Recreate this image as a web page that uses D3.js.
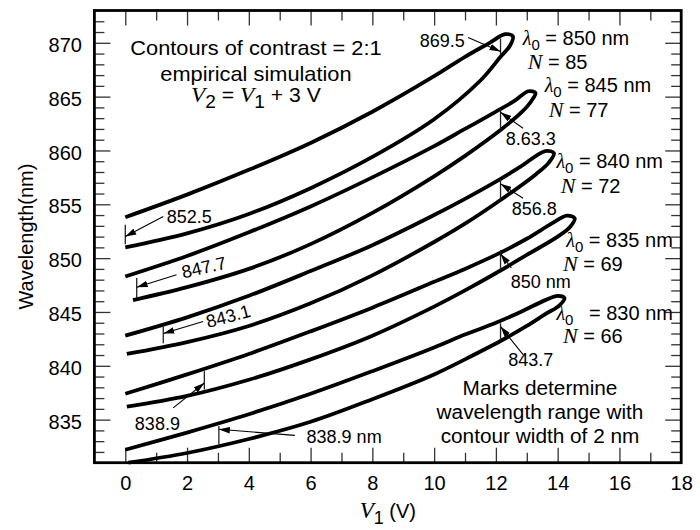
<!DOCTYPE html>
<html>
<head>
<meta charset="utf-8">
<script src="https://cdn.jsdelivr.net/npm/d3@7"></script>
<style>
  html, body { margin: 0; padding: 0; background: #fff; }
  svg text { font-family: "Liberation Sans", Arial, Helvetica, sans-serif; fill: #000; }
</style>
</head>
<body>
<svg id="chart" width="700" height="530"></svg>
<script>
// ---- axis ranges and tick labels ----
const xDomain = [-1, 18];
const yDomain = [831, 873];
const xTickLabels = [0, 2, 4, 6, 8, 10, 12, 14, 16, 18];
const yTickLabels = [835, 840, 845, 850, 855, 860, 865, 870];

// ---- contour loops of contrast 2:1, [V1 (V), wavelength (nm)],
//      traced along the upper branch, round the tip, back along the lower branch ----
const loop850 = [[0,853.8],[2,855.9],[4,858.2],[6,860.7],[8,863.6],[10,866.9],[11,868.7],[11.8,870.0],[12.3,870.8],
                 [12.55,870.6],[12.45,869.7],[12.15,868.7],[11.5,866.5],[10,862.9],[8,859.4],[6,856.5],[4,854.1],[2,852.3],[0,851.0]];
const loop845 = [[0,848.3],[2,850.2],[4,852.4],[6,854.8],[8,857.5],[10,860.4],[11,862.0],[12,863.6],[12.6,864.6],[13.05,865.5],
                 [13.28,865.35],[13.15,864.6],[12.85,863.6],[12.15,861.9],[11,859.5],[10,857.6],[8,854.2],[6,851.3],[4,849.0],[2,847.3],[0.25,846.1]];
const loop840 = [[0,842.8],[2,844.5],[4,846.5],[6,848.8],[8,851.2],[10,854.0],[11,855.5],[12,857.1],[12.8,858.5],[13.6,859.95],
                 [13.88,859.75],[13.72,858.9],[13.3,857.8],[12.15,855.4],[11,853.2],[10,851.5],[8,848.4],[6,845.8],[4,843.7],[2,842.2],[0.05,841.1]];
const loop835 = [[0,837.4],[2,839.2],[4,841.1],[6,843.2],[8,845.4],[10,847.8],[11,849.0],[12,850.3],[13,851.8],[13.8,853.2],[14.3,853.95],
                 [14.55,853.7],[14.4,852.9],[14.0,852.0],[13,850.3],[12.15,848.85],[11,847.0],[10,845.5],[8,842.8],[6,840.6],[4,838.7],[2,837.2],[0.05,836.2]];
const loop830 = [[0,832.2],[2,833.8],[4,835.5],[6,837.4],[8,839.5],[10,841.7],[11,842.9],[12,844.0],[12.8,845.0],[13.6,846.1],[14.0,846.5],
                 [14.22,846.3],[14.05,845.6],[13.6,844.8],[13,843.7],[12.15,842.3],[11,840.6],[10,839.2],[8,836.9],[6,834.8],[4,833.2],[2,831.9],[0.1,831.0]];
const loops = [loop850, loop845, loop840, loop835, loop830];

// centre wavelength and grating number of each contour
const lambda0 = [850, 845, 840, 835, 830];
const gratingN = [85, 77, 72, 69, 66];

// ---- marks: V1 position and the 2 nm wavelength span they cover ----
const markV1   = [0, 0.37, 1.23, 2.56, 3.03, 12.15, 12.15, 12.15, 12.15, 12.15];
const markLow  = [851.3, 846.3, 842.1, 837.8, 832.7, 868.9, 861.9, 855.4, 848.9, 842.4];
const markHigh = [853.1, 848.15, 843.65, 839.5, 834.4, 870.4, 863.76, 857.3, 850.75, 843.95];
const markText = ["852.5", "847.7", "843.1", "838.9", "838.9 nm", "869.5", "8.63.3", "856.8", "850 nm", "843.7"];

// ---- layout ----
const plot = { left: 94.4, right: 681.2, top: 10.5, bottom: 462.7 };

const svg = d3.select("#chart");
const x = d3.scaleLinear().domain(xDomain).range([plot.left, plot.right]);
const y = d3.scaleLinear().domain(yDomain).range([plot.bottom, plot.top]);
const serif = '"Liberation Serif", "Times New Roman", serif';

// arrow head marker
svg.append("defs").append("marker")
  .attr("id", "arrowHead")
  .attr("viewBox", "0 0 10 6")
  .attr("refX", 10).attr("refY", 3)
  .attr("markerUnits", "userSpaceOnUse")
  .attr("markerWidth", 11).attr("markerHeight", 7)
  .attr("orient", "auto")
  .append("path").attr("d", "M0,0 L10,3 L0,6 Z").attr("fill", "#000");

// ---- ticks (inward on all four sides) ----
const xSteps = d3.range(0, 18, 1);
const ySteps = d3.range(832, 873, 1);
const tickColor = "#333";

function drawTicks(axisGen, transform, values, size) {
  const g = svg.append("g").attr("transform", transform)
    .call(axisGen.tickValues(values).tickSize(size).tickFormat(""));
  g.select(".domain").remove();
  g.selectAll(".tick line").attr("stroke", tickColor).attr("stroke-width", 1.3);
  return g;
}
const xMaj = xSteps.filter(v => v % 2 === 0);
const xMin = xSteps.filter(v => v % 2 !== 0);
const yMaj = ySteps.filter(v => v % 5 === 0);
const yMin = ySteps.filter(v => v % 5 !== 0);

drawTicks(d3.axisBottom(x), `translate(0,${plot.bottom})`, xMaj, -15);
drawTicks(d3.axisBottom(x), `translate(0,${plot.bottom})`, xMin, -10);
drawTicks(d3.axisTop(x), `translate(0,${plot.top})`, xMaj, -15);
drawTicks(d3.axisTop(x), `translate(0,${plot.top})`, xMin, -10);
drawTicks(d3.axisLeft(y), `translate(${plot.left},0)`, yMaj, -16);
drawTicks(d3.axisLeft(y), `translate(${plot.left},0)`, yMin, -10);
drawTicks(d3.axisRight(y), `translate(${plot.right},0)`, yMaj, -16);
drawTicks(d3.axisRight(y), `translate(${plot.right},0)`, yMin, -10);

// ---- tick labels ----
const xl = svg.append("g").attr("transform", `translate(0,${plot.bottom})`)
  .call(d3.axisBottom(x).tickValues(xTickLabels).tickSize(0).tickPadding(13.5).tickFormat(d3.format("d")));
xl.select(".domain").remove();
xl.selectAll("text").attr("font-size", 20).style("font-family", '"Liberation Sans", Arial, sans-serif').attr("fill", "#000");

const yl = svg.append("g").attr("transform", `translate(${plot.left},0)`)
  .call(d3.axisLeft(y).tickValues(yTickLabels).tickSize(0).tickPadding(12.5).tickFormat(d3.format("d")));
yl.select(".domain").remove();
yl.selectAll("text").attr("font-size", 20).attr("dy", "0.43em").style("font-family", '"Liberation Sans", Arial, sans-serif').attr("fill", "#000");

// ---- contour loops ----
const line = d3.line()
  .x(d => x(d[0])).y(d => y(d[1]))
  .curve(d3.curveCatmullRom.alpha(0.5));

svg.append("g").selectAll("path").data(loops).join("path")
  .attr("d", line)
  .attr("fill", "none")
  .attr("stroke", "#000")
  .attr("stroke-width", 3.8)
  .attr("stroke-linejoin", "round")
  .attr("stroke-linecap", "butt");

// ---- wavelength-range marks ----
svg.append("g").selectAll("line").data(markV1).join("line")
  .attr("x1", (d) => x(d)).attr("x2", (d) => x(d))
  .attr("y1", (d, i) => y(markLow[i])).attr("y2", (d, i) => y(markHigh[i]))
  .attr("stroke", "#222").attr("stroke-width", 1.3);

// label placement for each mark: arrow tail, arrow head, text anchor (data units)
const markLayout = [
  { tail: [1.23, 853.86], head: [0, 852.0],  at: [1.34, 853.25], anchor: "start", rot: 0 },
  { tail: [1.66, 848.45], head: [0.37, 847.3], at: [1.88, 848.1], anchor: "start", rot: -13 },
  { tail: [2.52, 844.12], head: [1.23, 843.0], at: [2.68, 843.5], anchor: "start", rot: -15 },
  { tail: [1.55, 836.09], head: [2.56, 838.4], at: [0.31, 834.07], anchor: "start", rot: 0 },
  { tail: [5.49, 833.54], head: [3.03, 834.1], at: [5.87, 832.84], anchor: "start", rot: 0 },
  { tail: [11.1, 870.5],  head: [12.15, 869.2], at: [10.99, 869.63], anchor: "end", rot: 0 },
  { tail: [12.88, 862.06], head: [12.15, 863.55], at: [13.13, 860.5], anchor: "middle", rot: 0 },
  { tail: [12.88, 855.57], head: [12.15, 856.9], at: [13.24, 854.02], anchor: "middle", rot: 0 },
  { tail: [12.5, 849.1],  head: [12.15, 850.4], at: [13.45, 847.22], anchor: "middle", rot: 0 },
  { tail: [12.88, 841.03], head: [12.15, 843.65], at: [13.13, 839.95], anchor: "middle", rot: 0 }
];

const markG = svg.append("g");
markLayout.forEach((m, i) => {
  markG.append("line")
    .attr("x1", x(m.tail[0])).attr("y1", y(m.tail[1]))
    .attr("x2", x(m.head[0])).attr("y2", y(m.head[1]))
    .attr("stroke", "#000").attr("stroke-width", 1.1)
    .attr("marker-end", "url(#arrowHead)");
  markG.append("text")
    .attr("transform", `translate(${x(m.at[0])},${y(m.at[1])}) rotate(${m.rot})`)
    .attr("text-anchor", m.anchor)
    .attr("font-size", 18)
    .text(markText[i]);
});

// ---- contour labels: λ0 and N ----
const labelPos = [
  { lam: [12.87, 869.8], n: [13.03, 867.6], gap: "" },
  { lam: [13.58, 865.45], n: [13.71, 863.1], gap: "" },
  { lam: [13.96, 858.35], n: [14.10, 856.03], gap: "" },
  { lam: [14.28, 851.05], n: [14.17, 848.8], gap: "" },
  { lam: [13.96, 844.28], n: [14.17, 842.1], gap: "\u2002" }
];

labelPos.forEach((p, i) => {
  const t = svg.append("text")
    .attr("x", x(p.lam[0])).attr("y", y(p.lam[1]))
    .attr("font-size", 20);
  t.append("tspan").style("font-family", serif).attr("font-style", "italic").text("λ");
  t.append("tspan").attr("dy", 5).attr("font-size", 15).text("0");
  t.append("tspan").attr("dy", -5).text(`${p.gap} = ${lambda0[i]} nm`);

  const n = svg.append("text")
    .attr("x", x(p.n[0])).attr("y", y(p.n[1]))
    .attr("font-size", 20);
  n.append("tspan").style("font-family", serif).attr("font-style", "italic").attr("font-size", 22).text("N");
  n.append("tspan").text(` = ${gratingN[i]}`);
});

// ---- header note ----
const noteX = x(4.23);
function stretched(px, py, size, sx) {
  return svg.append("text")
    .attr("transform", `translate(${px},${py}) scale(${sx},1)`)
    .attr("text-anchor", "middle").attr("font-size", size);
}
stretched(noteX, 55, 20, 1.09).text("Contours of contrast = 2:1");
stretched(noteX, 80.5, 20, 1.09).text("empirical simulation");
const eq = stretched(noteX, 101.7, 20, 1.06);
eq.append("tspan").style("font-family", serif).attr("font-style", "italic").attr("font-size", 22).text("V");
eq.append("tspan").attr("dy", 6).attr("font-size", 18).text("2");
eq.append("tspan").attr("dy", -6).text(" = ");
eq.append("tspan").style("font-family", serif).attr("font-style", "italic").attr("font-size", 22).text("V");
eq.append("tspan").attr("dy", 6).attr("font-size", 18).text("1");
eq.append("tspan").attr("dy", -6).text(" + 3 V");

// ---- footnote ----
["Marks determine", "wavelength range with", "contour width of 2 nm"].forEach((s, i) => {
  stretched(540, 395 + i * 24.2, 20, 1.04).text(s);
});

// ---- axis titles ----
const xt = svg.append("text").attr("x", (plot.left + plot.right) / 2).attr("y", 518)
  .attr("text-anchor", "middle").attr("font-size", 20);
xt.append("tspan").style("font-family", serif).attr("font-style", "italic").attr("font-size", 23).text("V");
xt.append("tspan").attr("dy", 6).attr("font-size", 18).text("1");
xt.append("tspan").attr("dy", -6).text(" (V)");

svg.append("text")
  .attr("transform", `translate(33,${(plot.top + plot.bottom) / 2}) rotate(-90)`)
  .attr("text-anchor", "middle").attr("font-size", 20).text("Wavelength(nm)");

// ---- frame ----
svg.append("rect")
  .attr("x", plot.left).attr("y", plot.top)
  .attr("width", plot.right - plot.left).attr("height", plot.bottom - plot.top)
  .attr("fill", "none").attr("stroke", "#000").attr("stroke-width", 2.8);
</script>
</body>
</html>
